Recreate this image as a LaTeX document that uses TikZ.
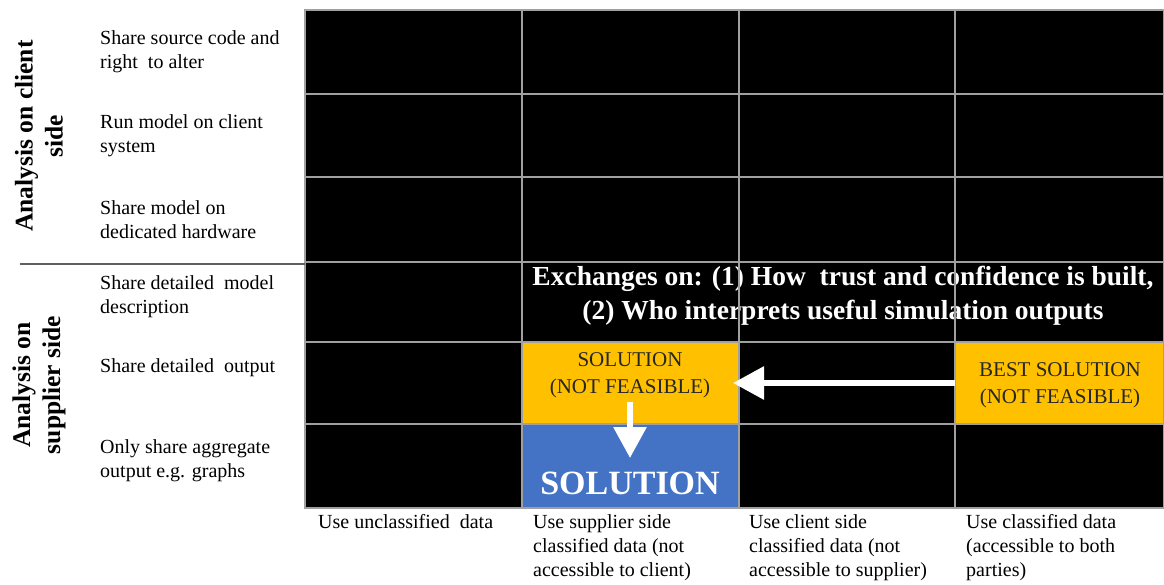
\documentclass[tikz,border=0pt]{standalone}
\usepackage{fontspec}
\setmainfont{Liberation Serif}
\usetikzlibrary{arrows.meta}
\definecolor{gridgray}{HTML}{A0A0A0}
\definecolor{divgray}{HTML}{606060}
\definecolor{solorange}{HTML}{FFC000}
\definecolor{solblue}{HTML}{4472C4}
\begin{document}
\begin{tikzpicture}[x=1pt,y=-1pt,
  cell/.style={draw=gridgray, line width=1.4pt,
    inner sep=0pt, outer sep=0pt, anchor=north west},
  rowlabel/.style={anchor=west, align=left, inner sep=0pt,
    font=\fontsize{20}{24}\selectfont},
  collabel/.style={anchor=north west, align=left, inner sep=0pt,
    font=\fontsize{20}{24}\selectfont},
  grouplabel/.style={rotate=90, align=center, inner sep=0pt,
    font=\bfseries\fontsize{25.5}{30}\selectfont},
  soltext/.style={align=center, inner sep=0pt, text=black!85,
    font=\fontsize{21}{27}\selectfont},
  bigarrow/.style={draw=white, line width=6pt,
    -{Triangle[length=31pt,width=32pt]}}]
\useasboundingbox (0,0) rectangle (1164,585);

% black matrix background
\fill[black] (305,10) rectangle (1164,508);

% banner text across the upper supplier-side row
\node[align=center, text=white, inner sep=0pt,
  font=\bfseries\fontsize{27.5}{34}\selectfont] (banner) at (843,296)
  {Exchanges on: (1) How\ \ trust and confidence is built,\\
   (2) Who interprets useful simulation outputs};

% coloured cells
\node[cell, fill=solorange, minimum width=217pt, minimum height=82pt] (sol)  at (522,342) {};
\node[cell, fill=solorange, minimum width=209pt, minimum height=82pt] (best) at (955,342) {};
\node[cell, fill=solblue,   minimum width=217pt, minimum height=84pt] (fin)  at (522,424) {};

% grid of cells
\foreach \r/\y/\h in {1/10/84, 2/94/83, 3/177/85, 4/262/80, 5/342/82, 6/424/84} {
  \foreach \c/\x/\w in {1/305/217, 2/522/217, 3/739/216, 4/955/209} {
    \node[cell, minimum width=\w*1pt, minimum height=\h*1pt] (cell-\r-\c) at (\x,\y) {};
  }
}

% texts inside the coloured cells
\node[soltext] (soltxt) at (630,375) {SOLUTION\\(NOT FEASIBLE)};
\node[soltext] (besttxt) at (1060,385) {BEST SOLUTION\\(NOT FEASIBLE)};
\node[text=white, inner sep=0pt, font=\bfseries\fontsize{34}{40}\selectfont]
  (fintxt) at (630,483) {SOLUTION};

% arrows
\coordinate (dstart) at (630,402);
\coordinate (dend) at (630,458);
\draw[bigarrow] (best.west) -- ([xshift=-6pt]sol.east);
\draw[bigarrow] (dstart) -- (dend);

% divider between the two groups of rows
\coordinate (divl) at (20,264);
\draw[divgray, line width=1.3pt] (divl) -- (divl -| cell-4-1.west);

% group labels
\node[grouplabel] (client) at (39,136) {Analysis on client\\side};
\node[grouplabel] (supplier) at (39,385) {Analysis on\\supplier side};

% row labels
\node[rowlabel] (l1) at (100,52)  {Share source code and\\right\ \ to alter};
\node[rowlabel] (l2) at (100,136) {Run model on client\\system};
\node[rowlabel] (l3) at (100,220) {Share model on\\dedicated hardware};
\node[rowlabel] (l4) at (100,297) {Share detailed\ \ model\\description};
\node[rowlabel] (l5) at (100,368) {Share detailed\ \ output};
\node[rowlabel] (l6) at (100,461) {Only share aggregate\\output e.g. graphs};

% column labels
\node[collabel] (k1) at (318,514) {Use unclassified\ \ data};
\node[collabel] (k2) at (533,514) {Use supplier side\\classified data (not\\accessible to client)};
\node[collabel] (k3) at (749,514) {Use client side\\classified data (not\\accessible to supplier)};
\node[collabel] (k4) at (966,514) {Use classified data\\(accessible to both\\parties)};
\end{tikzpicture}
\end{document}
